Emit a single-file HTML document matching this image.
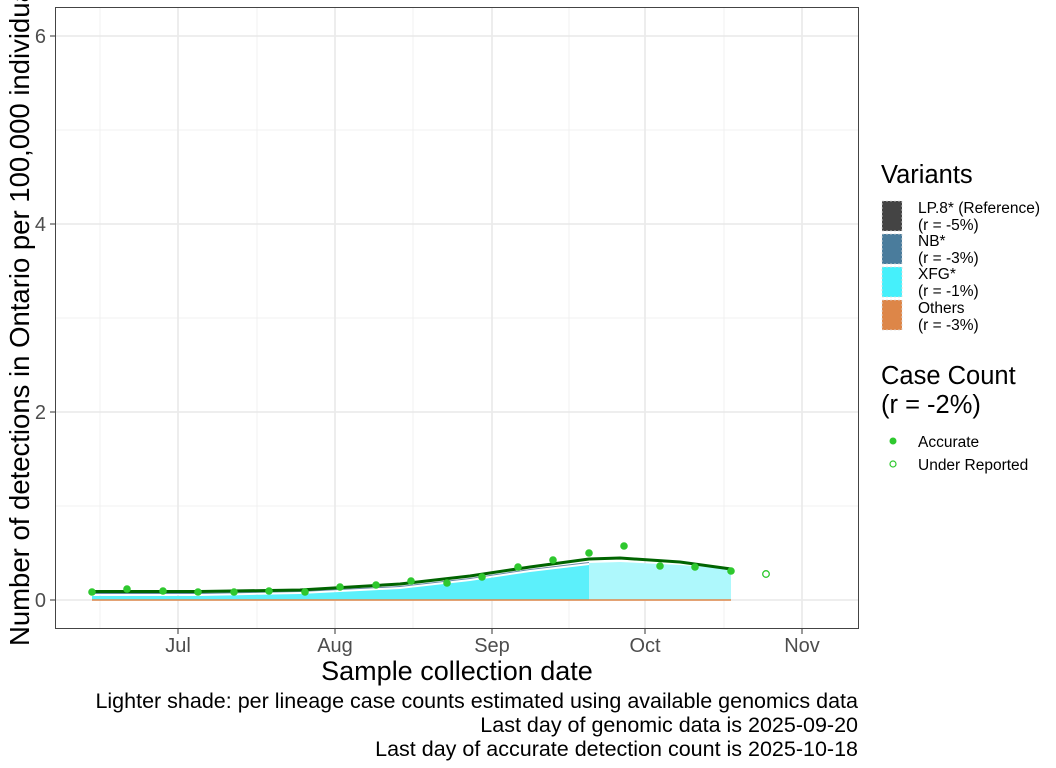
<!DOCTYPE html>
<html><head><meta charset="utf-8"><style>body{margin:0;background:#fff}svg{display:block;font-family:"Liberation Sans",sans-serif}</style></head><body>
<svg width="1056" height="768" viewBox="0 0 1056 768">
<rect width="1056" height="768" fill="#fff"/>
<g stroke="#f0f0f0" stroke-width="1">
<line x1="55" x2="858" y1="130" y2="130"/><line x1="55" x2="858" y1="318" y2="318"/><line x1="55" x2="858" y1="506" y2="506"/>
<line x1="100" x2="100" y1="7" y2="628"/><line x1="257" x2="257" y1="7" y2="628"/><line x1="413" x2="413" y1="7" y2="628"/><line x1="569" x2="569" y1="7" y2="628"/><line x1="724" x2="724" y1="7" y2="628"/>
</g>
<g stroke="#ebebeb" stroke-width="1.8">
<line x1="55" x2="858" y1="36" y2="36"/><line x1="55" x2="858" y1="224" y2="224"/><line x1="55" x2="858" y1="412" y2="412"/><line x1="55" x2="858" y1="600" y2="600"/>
<line x1="178" x2="178" y1="7" y2="628"/><line x1="335" x2="335" y1="7" y2="628"/><line x1="492" x2="492" y1="7" y2="628"/><line x1="645" x2="645" y1="7" y2="628"/><line x1="802" x2="802" y1="7" y2="628"/>
</g>
<path d="M92,596 L200,596 L300,594 L400,589 L470,581 L530,572 L589,565 L589,600 L92,600Z" fill="#5cf0fb"/>
<path d="M92,594.5 L200,594.5 L300,592.5 L400,587.5 L470,579.5 L530,570.5 L589,563.5" fill="none" stroke="#fff" stroke-width="1.2"/>
<path d="M92,593 L200,593 L300,591 L400,586 L470,578 L530,569 L589,562 L589,563 L530,570 L470,579 L400,587 L300,592 L200,594 L92,594Z" fill="#6a8aa6"/>
<path d="M589,563 L620,562 L680,565 L731,569 L731,600 L589,600Z" fill="#aef8fc"/>
<line x1="92" x2="731" y1="600" y2="600" stroke="#e0874a" stroke-width="1.5"/>
<path d="M92,591.5 L200,591.5 L300,590 L400,584 L470,576 L530,567 L589,559 L620,558 L680,562 L731,569" fill="none" stroke="#006400" stroke-width="3"/>
<g fill="#2ec82e">
<circle cx="92" cy="592" r="3.8"/><circle cx="127" cy="589" r="3.8"/><circle cx="163" cy="591" r="3.8"/><circle cx="198" cy="592" r="3.8"/><circle cx="234" cy="592" r="3.8"/><circle cx="269" cy="591" r="3.8"/><circle cx="305" cy="592" r="3.8"/><circle cx="340" cy="587" r="3.8"/><circle cx="376" cy="585" r="3.8"/><circle cx="411" cy="581" r="3.8"/><circle cx="447" cy="583" r="3.8"/><circle cx="482" cy="577" r="3.8"/><circle cx="518" cy="567" r="3.8"/><circle cx="553" cy="560" r="3.8"/><circle cx="589" cy="553" r="3.8"/><circle cx="624" cy="546" r="3.8"/><circle cx="660" cy="566" r="3.8"/><circle cx="695" cy="567" r="3.8"/><circle cx="731" cy="571" r="3.8"/>
</g>
<circle cx="766" cy="574" r="3.3" fill="none" stroke="#2ec82e" stroke-width="1.3"/>
<rect x="55.5" y="7.5" width="803" height="621" fill="none" stroke="#444" stroke-width="1"/>
<g stroke="#333"><line x1="50" x2="55" y1="36" y2="36"/><line x1="50" x2="55" y1="224" y2="224"/><line x1="50" x2="55" y1="412" y2="412"/><line x1="50" x2="55" y1="600" y2="600"/>
<line x1="178" x2="178" y1="629" y2="634"/><line x1="335" x2="335" y1="629" y2="634"/><line x1="492" x2="492" y1="629" y2="634"/><line x1="645" x2="645" y1="629" y2="634"/><line x1="802" x2="802" y1="629" y2="634"/></g>
<g fill="#4d4d4d" font-size="20" text-anchor="end"><text x="46" y="43">6</text><text x="46" y="231">4</text><text x="46" y="419">2</text><text x="46" y="607">0</text></g>
<g fill="#4d4d4d" font-size="20" text-anchor="middle"><text x="178" y="652">Jul</text><text x="335" y="652">Aug</text><text x="492" y="652">Sep</text><text x="645" y="652">Oct</text><text x="802" y="652">Nov</text></g>
<text x="457" y="680" font-size="27" text-anchor="middle">Sample collection date</text>
<text transform="translate(29,646) rotate(-90)" font-size="27.5">Number of detections in Ontario per 100,000 individuals</text>
<g font-size="21.5" text-anchor="end"><text x="858" y="708">Lighter shade: per lineage case counts estimated using available genomics data</text><text x="858" y="732">Last day of genomic data is 2025-09-20</text><text x="858" y="756">Last day of accurate detection count is 2025-10-18</text></g>
<text x="881" y="183" font-size="25.5">Variants</text>
<g stroke="#ddd" stroke-dasharray="2,2" stroke-width="0.8">
<rect x="882" y="201" width="20" height="30" fill="#444"/><rect x="882" y="234" width="20" height="30" fill="#4a7c9c"/><rect x="882" y="267" width="20" height="30" fill="#45f0fb"/><rect x="882" y="300" width="20" height="30" fill="#dd8648"/></g>
<g font-size="15.5"><text x="918" y="213">LP.8* (Reference)</text><text x="918" y="230">(r = -5%)</text><text x="918" y="246">NB*</text><text x="918" y="263">(r = -3%)</text><text x="918" y="279">XFG*</text><text x="918" y="296">(r = -1%)</text><text x="918" y="313">Others</text><text x="918" y="330">(r = -3%)</text></g>
<text x="881" y="384" font-size="25.5">Case Count</text><text x="881" y="413" font-size="25.5">(r = -2%)</text>
<circle cx="893" cy="441" r="3.5" fill="#2ec82e"/><circle cx="893" cy="464" r="3" fill="none" stroke="#2ec82e" stroke-width="1.2"/>
<g font-size="15.5"><text x="918" y="447">Accurate</text><text x="918" y="470">Under Reported</text></g>
</svg>
</body></html>
